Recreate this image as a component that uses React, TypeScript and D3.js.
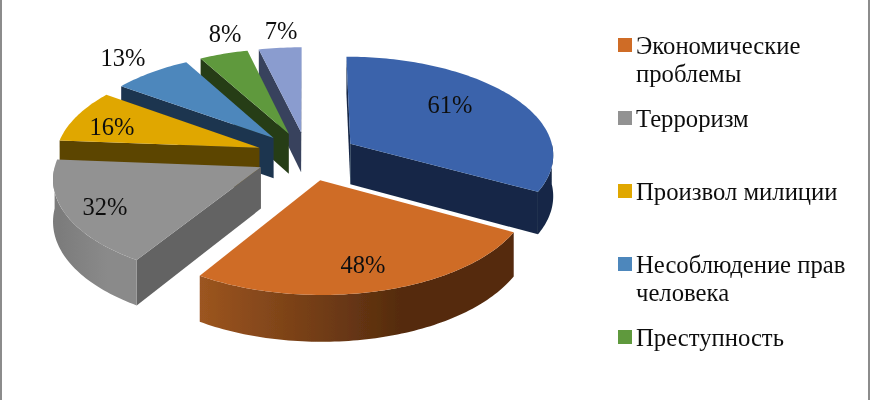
import React from 'react'
import * as d3 from 'd3'

// values
const percents = [61, 48, 32, 16, 13, 8, 7]
const legendNames = [
  ['Экономические', 'проблемы'],
  ['Терроризм'],
  ['Произвол милиции'],
  ['Несоблюдение прав', 'человека'],
  ['Преступность'],
]

// colours per slice: top, flat wall, outer wall left and right
const topColors = ['#3b64ab', '#cf6c27', '#929292', '#e0a700', '#4e87bc', '#5f993d', '#8a9ccf']
const wallColors = ['#162846', '#552b0e', '#636363', '#5c4400', '#1f3550', '#263d17', '#39435d']
const rimLeft = ['#162846', '#9c5520', '#7a7a7a', '#5c4400', '#1f3550', '#263d17', '#39435d']
const rimRight = ['#162846', '#542b0e', '#8a8a8a', '#5c4400', '#1f3550', '#263d17', '#39435d']
const legendColors = ['#cf6c27', '#929292', '#e0a700', '#4e87bc', '#5f993d']

// layout
const width = 870
const height = 400
const cx = 307
const cy = 156
const rx = 204
const ry = 98
const persp = 0.1
const depth = 41
const explode = 0.25
const labelSpots = [[450, 104], [363, 264], [105, 206], [112, 126], [123, 57], [225, 33], [281, 30]]
const legendX = 618
const legendY = d3.scaleLinear().domain([0, 4]).range([38, 330])
const drawOrder = [6, 5, 4, 3, 2, 0, 1]

const arcs = d3.pie<number>().sort(null).value(d => d)(percents)

function project(u: number, v: number, down = 0): [number, number] {
  const w = 1 / (1 - persp * v)
  return [cx + rx * u * w, cy + ry * v * w + down * w]
}

const toPath = d3.line<[number, number]>()

function angles(a0: number, a1: number) {
  const n = Math.max(2, Math.ceil((a1 - a0) / 0.02))
  return d3.range(n + 1).map(i => a0 + ((a1 - a0) * i) / n)
}

function App() {
  const slices = arcs.map(arc => {
    const mid = (arc.startAngle + arc.endAngle) / 2
    const ou = explode * Math.sin(mid)
    const ov = -explode * Math.cos(mid)
    const at = (a: number, r: number, down = 0) =>
      project(ou + r * Math.sin(a), ov - r * Math.cos(a), down)
    const rim = angles(arc.startAngle, arc.endAngle).map(a => at(a, 1))
    const top = toPath([at(0, 0), ...rim])! + 'Z'
    const wallAt = (a: number) =>
      toPath([at(0, 0), at(a, 1), at(a, 1, depth), at(0, 0, depth)])! + 'Z'
    const walls: string[] = []
    if (Math.sin(arc.startAngle) <= 0) walls.push(wallAt(arc.startAngle))
    if (Math.sin(arc.endAngle) > 0) walls.push(wallAt(arc.endAngle))
    const f0 = Math.max(arc.startAngle, Math.PI / 2)
    const f1 = Math.min(arc.endAngle, (Math.PI * 3) / 2)
    let outer: string | null = null
    if (f1 > f0) {
      const upper = angles(f0, f1).map(a => at(a, 1))
      const lower = angles(f0, f1).reverse().map(a => at(a, 1, depth))
      outer = toPath([...upper, ...lower])! + 'Z'
    }
    return { top, walls, outer }
  })

  return (
    <svg
      width={width}
      height={height}
      style={{ position: 'absolute', left: 0, top: 0, background: '#fff' }}
      fontFamily="'Liberation Serif', serif"
    >
      <defs>
        {percents.map((_, i) => (
          <linearGradient key={i} id={`rim${i}`} x1="1" x2="0" y1="0" y2="0">
            <stop offset="0" stopColor={rimRight[i]} />
            <stop offset="0.35" stopColor={rimRight[i]} />
            <stop offset="1" stopColor={rimLeft[i]} />
          </linearGradient>
        ))}
        <filter id="soft" x="0" y="0" width="100%" height="100%">
          <feGaussianBlur stdDeviation="0.35" />
        </filter>
      </defs>
      <line x1={1} x2={1} y1={0} y2={height} stroke="#8c8c8c" strokeWidth={2} />
      <line x1={869} x2={869} y1={0} y2={height} stroke="#8c8c8c" strokeWidth={2} />
      <g filter="url(#soft)">
        {drawOrder.map(i => (
          <g key={i}>
            {slices[i].walls.map((d, k) => (
              <path key={k} d={d} fill={wallColors[i]} />
            ))}
            {slices[i].outer && <path d={slices[i].outer!} fill={`url(#rim${i})`} />}
            <path d={slices[i].top} fill={topColors[i]} />
          </g>
        ))}
        {percents.map((p, i) => (
          <text
            key={i}
            x={labelSpots[i][0]}
            y={labelSpots[i][1]}
            textAnchor="middle"
            dominantBaseline="central"
            fontSize={24.5}
            fill="#111"
          >
            {p}%
          </text>
        ))}
        {legendNames.map((lines, i) => (
          <g key={i}>
            <rect x={legendX} y={legendY(i)} width={14} height={14} fill={legendColors[i]} />
            {lines.map((line, k) => (
              <text key={k} x={636} y={legendY(i) + 15.5 + k * 28.5} fontSize={24.7} fill="#111">
                {line}
              </text>
            ))}
          </g>
        ))}
      </g>
    </svg>
  )
}

export default App
